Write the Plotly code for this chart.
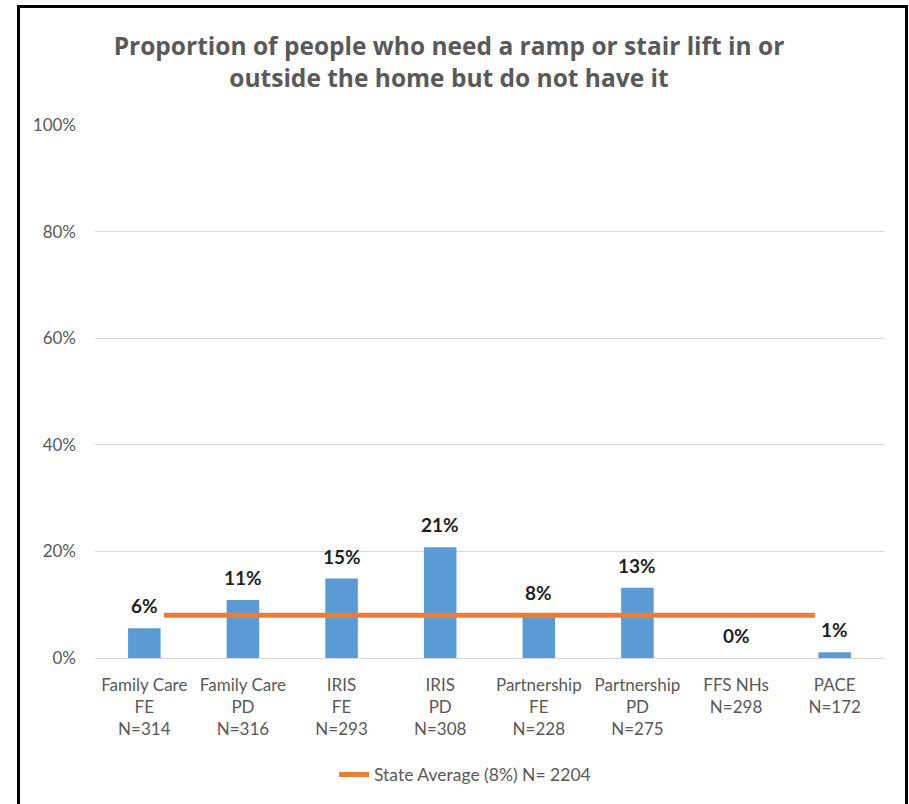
import plotly.graph_objects as go

# Program groups shown along the x axis
programs = ["Family Care", "Family Care", "IRIS", "IRIS", "Partnership",
            "Partnership", "FFS NHs", "PACE"]
target_groups = ["FE", "PD", "FE", "PD", "FE", "PD", "", ""]
sample_sizes = [314, 316, 293, 308, 228, 275, 298, 172]

# Percent who need a ramp or stair lift but do not have it
need_pct = [5.6, 10.9, 14.9, 20.8, 8.0, 13.2, 0.0, 1.1]

state_avg_pct = 8
state_n = 2204

y_ticks = [0, 20, 40, 60, 80, 100]

FONT = "Lato"
TITLE_FONT = "Open Sans"
GREY = "#595959"
BLUE = "#5B9BD5"
ORANGE = "#ED7D31"

W, H = 909, 804
PL, PR, PT, PB = 95, 25, 125, 144
plot_w = W - PL - PR
plot_h = H - PT - PB


def px_to_paper_x(px):
    return (px - PL) / plot_w


def px_to_paper_y(py):
    return (H - PB - py) / plot_h


tick_text = []
for prog, grp, n in zip(programs, target_groups, sample_sizes):
    lines = [prog] + ([grp] if grp else []) + [f"N={n}"]
    tick_text.append("<br>".join(lines))

idx = list(range(len(programs)))

fig = go.Figure()

fig.add_trace(go.Bar(
    x=idx, y=need_pct, width=0.33,
    marker=dict(color=BLUE, line=dict(width=0)),
    showlegend=False, hoverinfo="y",
))

# State average reference line spanning the categories
fig.add_trace(go.Scatter(
    x=[idx[0] + 0.2, idx[-1] - 0.2], y=[state_avg_pct, state_avg_pct],
    mode="lines", line=dict(color=ORANGE, width=5),
    name=f"State Average ({state_avg_pct}%) N= {state_n}",
))

annotations = []
for i, v in zip(idx, need_pct):
    annotations.append(dict(
        x=i, y=v, xref="x", yref="y", text=f"{round(v)}%",
        showarrow=False, yanchor="bottom", yshift=9,
        font=dict(family=FONT, size=19, color="#1f1f1f", weight="bold"),
    ))

fig.update_layout(
    width=W, height=H,
    margin=dict(l=PL, r=PR, t=PT, b=PB),
    paper_bgcolor="white", plot_bgcolor="white",
    title=dict(
        text="Proportion of people who need a ramp or stair lift in or<br>"
             "outside the home but do not have it",
        x=449 / W, xanchor="center", xref="container",
        y=1 - 55 / H, yanchor="middle", yref="container",
        font=dict(family=TITLE_FONT, size=24.5, color=GREY, weight="bold"),
    ),
    xaxis=dict(
        range=[-0.5, len(idx) - 0.5], tickmode="array", tickvals=idx,
        ticktext=tick_text, showgrid=False, zeroline=False, showline=False,
        ticks="", ticklabelstandoff=15,
        tickfont=dict(family=FONT, size=17, color=GREY),
    ),
    yaxis=dict(
        range=[0, 100], tickmode="array", tickvals=y_ticks,
        ticktext=[f"{v}%" for v in y_ticks],
        showgrid=True, gridcolor="#D9D9D9", gridwidth=1.3,
        zeroline=True, zerolinecolor="#D9D9D9", zerolinewidth=1.3,
        showline=False, ticks="", ticklabelstandoff=18,
        tickfont=dict(family=FONT, size=17, color=GREY),
    ),
    legend=dict(
        orientation="h", x=px_to_paper_x(465), xanchor="center",
        y=px_to_paper_y(777), yanchor="middle",
        font=dict(family=FONT, size=17.5, color=GREY),
        bgcolor="rgba(0,0,0,0)",
    ),
    annotations=annotations,
    shapes=[dict(
        type="rect", xref="paper", yref="paper",
        x0=px_to_paper_x(18.5), x1=px_to_paper_x(906.5),
        y0=px_to_paper_y(H + 20), y1=px_to_paper_y(6),
        line=dict(color="black", width=3), fillcolor="rgba(0,0,0,0)",
        layer="above",
    )],
    showlegend=True,
)

fig.write_html("out.html")
